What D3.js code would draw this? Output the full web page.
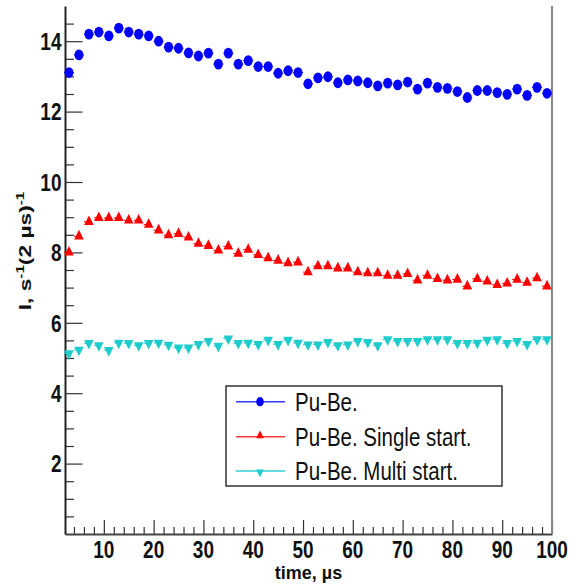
<!DOCTYPE html>
<html>
<head>
<meta charset="utf-8">
<script src="https://cdn.jsdelivr.net/npm/d3@7"></script>
<style>
  html, body { margin: 0; padding: 0; background: #fff; }
  svg { display: block; }
  text { font-family: "Liberation Sans", Arial, Helvetica, sans-serif; }
</style>
</head>
<body>
<svg id="chart" width="583" height="585"></svg>
<script>
// ---- data ----
const times = [3,5,7,9,11,13,15,17,19,21,23,25,27,29,31,33,35,37,39,41,43,45,47,49,
               51,53,55,57,59,61,63,65,67,69,71,73,75,77,79,81,83,85,87,89,91,93,95,97,99];
const puBe = [13.11,13.61,14.20,14.26,14.15,14.37,14.26,14.20,14.15,14.00,13.83,13.80,13.67,13.58,13.66,13.35,13.66,13.35,13.45,13.28,13.28,13.09,13.16,13.11,
              12.79,12.96,12.99,12.82,12.90,12.87,12.82,12.73,12.81,12.76,12.84,12.64,12.81,12.69,12.66,12.57,12.40,12.60,12.60,12.54,12.49,12.64,12.46,12.69,12.52];
const puBeSingle = [8.00,8.46,8.87,8.98,8.98,8.98,8.91,8.91,8.79,8.63,8.49,8.53,8.43,8.25,8.19,8.06,8.17,7.97,8.08,7.93,7.84,7.77,7.70,7.72,
                    7.44,7.61,7.61,7.55,7.55,7.44,7.41,7.41,7.34,7.34,7.39,7.21,7.34,7.25,7.21,7.23,7.04,7.25,7.18,7.08,7.12,7.23,7.14,7.27,7.04];
const puBeMulti = [5.13,5.23,5.42,5.36,5.22,5.43,5.42,5.36,5.42,5.43,5.37,5.29,5.29,5.39,5.48,5.34,5.55,5.42,5.43,5.39,5.51,5.39,5.51,5.43,
                   5.38,5.38,5.45,5.36,5.38,5.48,5.45,5.36,5.53,5.48,5.48,5.48,5.53,5.53,5.53,5.42,5.42,5.43,5.51,5.53,5.42,5.48,5.39,5.53,5.53];
const seriesNames = ["Pu-Be.", "Pu-Be. Single start.", "Pu-Be. Multi start."];
const xTickLabels = [10,20,30,40,50,60,70,80,90,100];
const yTickLabels = [2,4,6,8,10,12,14];
const xTitle = "time, \u00b5s";

// ---- layout ----
const svg = d3.select("#chart");
const L = 65, R = 552, T = 6, B = 534;
const x = d3.scaleLinear().domain([2.2, 100]).range([L, R]);
const y = d3.scaleLinear().domain([0, 15]).range([B, T]);
const colors = ["#0000ff", "#ff0000", "#1ecccc"];
const legendColors = ["#3a3aff", "#ff3a3a", "#30d0d0"];

// ---- axes ----
const xMinor = d3.range(4, 100, 2).filter(v => v % 10 !== 0);
svg.append("g").attr("transform", `translate(0,${B})`)
  .call(d3.axisBottom(x).tickValues(xMinor).tickSize(-7).tickFormat(""))
  .call(g => g.select(".domain").remove())
  .call(g => g.selectAll("line").attr("stroke", "#333").attr("stroke-width", 1.2));
svg.append("g").attr("transform", `translate(0,${B})`)
  .call(d3.axisBottom(x).tickValues(xTickLabels).tickSize(-14).tickSizeOuter(0).tickFormat(""))
  .call(g => g.select(".domain").attr("stroke", "#444").attr("stroke-width", 2))
  .call(g => g.selectAll("line").attr("stroke", "#333").attr("stroke-width", 1.2));

const yMinor = d3.range(0.5, 15, 0.5).filter(v => v % 2 !== 0);
svg.append("g").attr("transform", `translate(${L},0)`)
  .call(d3.axisLeft(y).tickValues(yMinor).tickSize(-9).tickFormat(""))
  .call(g => g.select(".domain").remove())
  .call(g => g.selectAll("line").attr("stroke", "#333").attr("stroke-width", 1.2));
svg.append("g").attr("transform", `translate(${L},0)`)
  .call(d3.axisLeft(y).tickValues(yTickLabels).tickSize(-17.5).tickSizeOuter(0).tickFormat(""))
  .call(g => g.select(".domain").attr("stroke", "#222").attr("stroke-width", 2))
  .call(g => g.selectAll("line").attr("stroke", "#333").attr("stroke-width", 1.2));

// right frame
svg.append("line").attr("x1", R).attr("x2", R).attr("y1", T).attr("y2", B)
  .attr("stroke", "#888").attr("stroke-width", 2);

// tick labels (stretched vertically like the reference)
svg.append("g").selectAll("text").data(xTickLabels).join("text")
  .attr("transform", d => `translate(${x(d)},558) scale(1,1.3)`)
  .attr("text-anchor", "middle").attr("font-weight", "bold").attr("font-size", 19)
  .attr("fill", "#111").text(d => d);
svg.append("g").selectAll("text").data(yTickLabels).join("text")
  .attr("transform", d => `translate(61.5,${y(d) + 8.8}) scale(1,1.3)`)
  .attr("text-anchor", "end").attr("font-weight", "bold").attr("font-size", 19)
  .attr("fill", "#111").text(d => d);

// axis titles
svg.append("text").attr("x", (L + R) / 2).attr("y", 579)
  .attr("text-anchor", "middle").attr("font-weight", "bold").attr("font-size", 18)
  .attr("fill", "#111").text(xTitle);

const yt = svg.append("text")
  .attr("transform", "translate(31,251) rotate(-90) scale(1.38,1)")
  .attr("text-anchor", "middle").attr("font-weight", "bold").attr("font-size", 16.5)
  .attr("fill", "#111");
yt.append("tspan").text("I, s");
yt.append("tspan").attr("font-size", 11).attr("dy", -7).text("-1");
yt.append("tspan").attr("dy", 7).text("(2 \u00b5s)");
yt.append("tspan").attr("font-size", 11).attr("dy", -7).text("-1");

// ---- series ----
const series = [puBe, puBeSingle, puBeMulti];
const plot = svg.append("g");

series.forEach((vals, si) => {
  const pts = times.map((t, i) => ({ t, v: vals[i] }));
  const g = plot.append("g");
  // horizontal bin bars (x error bars)
  g.selectAll("line.bar").data(pts).join("line").attr("class", "bar")
    .attr("x1", d => x(d.t - 1)).attr("x2", d => x(d.t + 1))
    .attr("y1", d => y(d.v)).attr("y2", d => y(d.v))
    .attr("stroke", colors[si]).attr("stroke-width", 1)
    .attr("stroke-dasharray", si === 0 ? null : "3,2");
  if (si === 0) {
    g.selectAll("ellipse").data(pts).join("ellipse")
      .attr("cx", d => x(d.t)).attr("cy", d => y(d.v))
      .attr("rx", 4.5).attr("ry", 5.4).attr("fill", colors[si]);
  } else {
    const sym = d3.symbol().type(d3.symbolTriangle).size(40)();
    g.selectAll("path.m").data(pts).join("path").attr("class", "m")
      .attr("d", sym)
      .attr("transform", d => `translate(${x(d.t)},${y(d.v)}) scale(1,${si === 1 ? 1.15 : -1.15})`)
      .attr("fill", colors[si]);
  }
});

// ---- legend ----
const lg = svg.append("g");
lg.append("rect").attr("x", 226).attr("y", 386).attr("width", 276).attr("height", 100)
  .attr("fill", "#fff").attr("stroke", "#333").attr("stroke-width", 1.5);
const rows = [401.7, 436.7, 471];
seriesNames.forEach((name, i) => {
  const ry = rows[i];
  lg.append("line").attr("x1", 236).attr("x2", 285).attr("y1", ry).attr("y2", ry)
    .attr("stroke", legendColors[i]).attr("stroke-width", 1.5);
  if (i === 0) {
    lg.append("ellipse").attr("cx", 260).attr("cy", ry).attr("rx", 3.8).attr("ry", 4.6).attr("fill", colors[0]);
  } else {
    lg.append("path").attr("d", d3.symbol().type(d3.symbolTriangle).size(26)())
      .attr("transform", `translate(260,${ry + (i === 1 ? -1 : 1)}) scale(1,${i === 1 ? 1.15 : -1.15})`)
      .attr("fill", colors[i]);
  }
  lg.append("text").attr("transform", `translate(295,${ry + 9.4}) scale(1,1.3)`)
    .attr("font-size", 20.5).attr("fill", "#111").text(name);
});
</script>
</body>
</html>
